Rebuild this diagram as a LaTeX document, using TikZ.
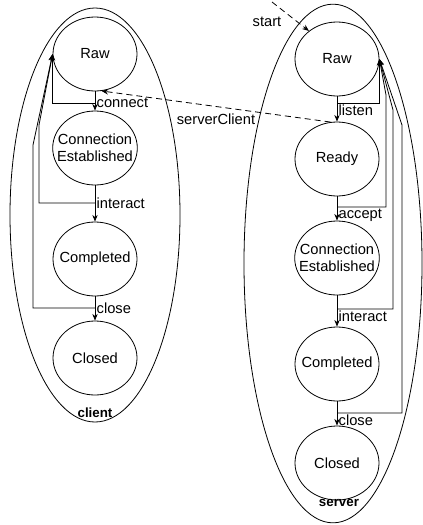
\documentclass[tikz,border=0pt]{standalone}
\usepackage{fontspec}
\setmainfont{Liberation Sans}
\usepackage{tikz}
\usetikzlibrary{shapes.geometric,arrows.meta,calc}

\tikzset{
  state/.style={draw,ellipse,minimum width=63pt,minimum height=55.5pt,inner sep=0pt,inner xsep=-6pt,align=center},
  group/.style={draw,ellipse,inner sep=0pt},
  grouplbl/.style={font=\bfseries,inner sep=0pt},
  trans/.style={line width=0.6pt,-{Stealth[length=5pt,width=4pt]}},
  back/.style={line width=0.6pt,-{Stealth[length=5pt,width=4pt]}},
  link/.style={trans,dash pattern=on 4.5pt off 3pt},
  clbl/.style={anchor=west,inner sep=1pt},
  slbl/.style={anchor=north west,inner sep=1pt},
}

\begin{document}
\begin{tikzpicture}[x=0.75pt,y=-0.75pt,line width=0.6pt,font=\fontsize{11}{12.5}\selectfont]
  \useasboundingbox (0,0) rectangle (422,525);
  % outer groups
  \node[group,minimum width=127.5pt,minimum height=310.5pt] (client) at (95,215) {};
  \node[group,minimum width=133.5pt,minimum height=389pt] (server) at (333,263.5) {};
  \node[grouplbl] (clientlbl) at (95,413) {client};
  \node[grouplbl] (serverlbl) at (339,503) {server};

  % client states
  \foreach \n/\txt/\y in {craw/Raw/54, cest/{Connection\\Established}/148, ccomp/Completed/259, cclosed/Closed/358}
    \node[state] (\n) at (95,\y) {\txt};
  % server states
  \foreach \n/\txt/\y in {sraw/Raw/59, sready/Ready/159, sest/{Connection\\Established}/258, scomp/Completed/364, sclosed/Closed/463}
    \node[state] (\n) at (337,\y) {\txt};

  % forward transitions
  \foreach \a/\b in {craw/cest, cest/ccomp, ccomp/cclosed, sraw/sready, sready/sest, sest/scomp, scomp/sclosed}
    \draw[trans] (\a.south) -- (\b.north);

  % junctions on the transitions
  \coordinate (jconnect)  at (95,103);
  \coordinate (jinteract) at (95,203);
  \coordinate (jclose)    at (95,308);
  \coordinate (jlisten)   at (337,103);
  \coordinate (jaccept)   at (337,207);
  \coordinate (jsinteract) at (337,309);
  \coordinate (jsclose)   at (337,413);

  \node[clbl] (lconnect)  at (jconnect)  {connect};
  \node[clbl] (linteract) at (jinteract) {interact};
  \node[clbl] (lclose)    at (jclose)    {close};
  \node[slbl] (llisten)   at (jlisten)   {listen};
  \node[slbl] (laccept)   at (jaccept)   {accept};
  \node[slbl] (lsinteract) at (jsinteract) {interact};
  \node[slbl] (lsclose)   at (jsclose)   {close};

  % back to Raw
  \draw[back] (jconnect) -| (craw.west);
  \foreach \j/\xx/\yb in {jinteract/39/125, jclose/33/145}
    \draw[back] (\j) -| (\xx,\yb) -- (craw.west);
  \draw[back] (jlisten) -| (sraw.east);
  \foreach \j/\xx/\yb in {jaccept/386/95, jsinteract/393/110, jsclose/402/125}
    \draw[back] (\j) -| (\xx,\yb) -- (sraw.east);

  % start and client/server link
  \coordinate (start) at (272,2);
  \draw[link] (start) -- (sraw.135);
  \node (startlbl) at (267,22) {start};
  \draw[link] (sready.100) -- node[midway,below=2pt] (lserverclient) {serverClient} (craw.-80);
\end{tikzpicture}
\end{document}
